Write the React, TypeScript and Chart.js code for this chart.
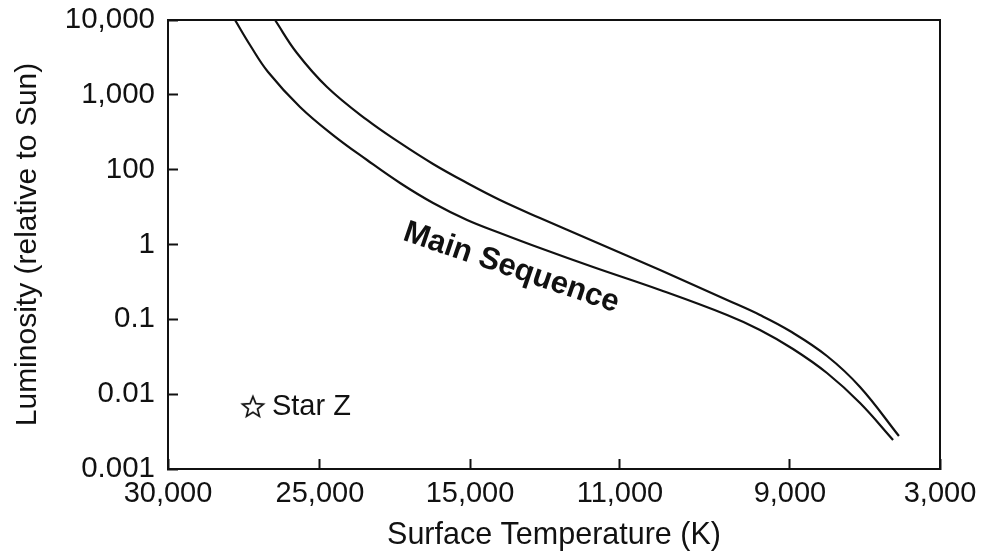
import React, { useEffect, useRef } from "react";
import { Chart, registerables } from "chart.js";

Chart.register(...registerables);

// Axis labels (the original axis is evenly spaced by label, not by value)
const xTickLabels = ["30,000", "25,000", "15,000", "11,000", "9,000", "3,000"];
const xTickPositions = [0, 0.984, 1.956, 2.927, 4.028, 5];
const yTickLabels = ["0.001", "0.01", "0.1", "1", "100", "1,000", "10,000"];

// Main sequence band: upper (outer) boundary, in axis-label units
const upperX = [0.693, 0.835, 1.03, 1.289, 1.503, 1.717, 1.937, 2.15, 2.409, 2.753, 3.187, 3.621, 3.834, 4.028, 4.268, 4.482, 4.734];
const upperY = [6.0, 5.559, 5.105, 4.664, 4.357, 4.076, 3.822, 3.595, 3.354, 3.047, 2.659, 2.258, 2.058, 1.844, 1.51, 1.096, 0.441];
// lower (inner) boundary
const lowerX = [0.434, 0.531, 0.648, 0.855, 1.069, 1.289, 1.503, 1.717, 1.937, 2.15, 2.409, 2.753, 3.187, 3.621, 3.834, 4.048, 4.268, 4.482, 4.696];
const lowerY = [6.0, 5.666, 5.305, 4.838, 4.463, 4.129, 3.822, 3.555, 3.328, 3.154, 2.953, 2.699, 2.392, 2.058, 1.858, 1.604, 1.283, 0.882, 0.388];

// Star Z
const starX = [0.55];
const starY = [0.83];
const starNames = ["Star Z"];

// Band label
const bandLabel = "Main Sequence";
const bandLabelX = 2.205;
const bandLabelY = 2.58;

const FONT = "'Liberation Sans', Arial, Helvetica, sans-serif";
const INK = "#111";

function makeStarCanvas(): HTMLCanvasElement {
  const c = document.createElement("canvas");
  c.width = 26;
  c.height = 26;
  const g = c.getContext("2d")!;
  const cx = 13, cy = 13.5, R = 11, r = 4.8;
  g.beginPath();
  for (let i = 0; i < 10; i++) {
    const ang = -Math.PI / 2 + (i * Math.PI) / 5;
    const rad = i % 2 === 0 ? R : r;
    const px = cx + rad * Math.cos(ang);
    const py = cy + rad * Math.sin(ang);
    if (i === 0) g.moveTo(px, py);
    else g.lineTo(px, py);
  }
  g.closePath();
  g.fillStyle = "#fff";
  g.fill();
  g.lineWidth = 1.7;
  g.strokeStyle = INK;
  g.lineJoin = "miter";
  g.stroke();
  return c;
}

function zeroPad(scale: any) {
  scale.paddingTop = 0;
  scale.paddingBottom = 0;
  scale.paddingLeft = 0;
  scale.paddingRight = 0;
}

export default function App() {
  const ref = useRef<HTMLCanvasElement | null>(null);

  useEffect(() => {
    if (!ref.current) return;
    const starImg = makeStarCanvas();

    const annotate = {
      id: "annotate",
      afterDatasetsDraw(chart: any) {
        const { ctx, chartArea, scales } = chart;
        const xs = scales.x, ys = scales.y;
        ctx.save();
        // frame
        ctx.strokeStyle = INK;
        ctx.lineWidth = 2;
        ctx.strokeRect(chartArea.left, chartArea.top, chartArea.right - chartArea.left, chartArea.bottom - chartArea.top);
        // star labels
        ctx.fillStyle = INK;
        ctx.font = `29px ${FONT}`;
        ctx.textAlign = "left";
        ctx.textBaseline = "middle";
        starNames.forEach((name, i) => {
          const px = xs.getPixelForValue(starX[i]);
          const py = ys.getPixelForValue(starY[i]);
          ctx.fillText(name, px + 19, py);
        });
        // band label
        const bx = xs.getPixelForValue(bandLabelX);
        const by = ys.getPixelForValue(bandLabelY);
        ctx.translate(bx, by);
        ctx.rotate((18.8 * Math.PI) / 180);
        ctx.font = `bold 31px ${FONT}`;
        ctx.textAlign = "center";
        ctx.textBaseline = "alphabetic";
        ctx.fillText(bandLabel, 0, 0);
        ctx.restore();
      },
    };

    const chart = new Chart(ref.current, {
      type: "line",
      data: {
        datasets: [
          {
            label: "upper",
            data: upperX.map((x, i) => ({ x, y: upperY[i] })),
            borderColor: INK,
            borderWidth: 2.2,
            pointRadius: 0,
            tension: 0.4,
            fill: false,
          },
          {
            label: "lower",
            data: lowerX.map((x, i) => ({ x, y: lowerY[i] })),
            borderColor: INK,
            borderWidth: 2.2,
            pointRadius: 0,
            tension: 0.4,
            fill: false,
          },
          {
            type: "scatter",
            label: "Star Z",
            data: starX.map((x, i) => ({ x, y: starY[i] })),
            pointStyle: starImg as any,
            pointRadius: 12,
            showLine: false,
          } as any,
        ],
      },
      options: {
        responsive: false,
        animation: false,
        devicePixelRatio: 1,
        layout: { padding: { top: 20, right: 42, left: 0, bottom: 0 } },
        plugins: {
          legend: { display: false },
          tooltip: { enabled: false },
        },
        scales: {
          x: {
            type: "linear",
            min: 0,
            max: 5,
            afterBuildTicks: (scale: any) => {
              scale.ticks = xTickPositions.map((v) => ({ value: v }));
            },
            afterFit: (scale: any) => {
              scale.height = 88;
              zeroPad(scale);
            },
            ticks: {
              autoSkip: false,
              maxRotation: 0,
              minRotation: 0,
              padding: 18,
              color: INK,
              font: { family: FONT, size: 29 },
              callback: (_v: any, i: number) => xTickLabels[i],
            },
            grid: {
              drawOnChartArea: false,
              drawTicks: true,
              tickLength: -10,
              tickWidth: 2,
              tickColor: INK,
            },
            border: { display: true, color: INK, width: 2 },
            title: {
              display: true,
              text: "Surface Temperature (K)",
              color: INK,
              font: { family: FONT, size: 30.5 },
              padding: { top: 0, bottom: 3 },
            },
          },
          y: {
            type: "linear",
            min: 0,
            max: 6,
            afterFit: (scale: any) => {
              scale.width = 168;
              zeroPad(scale);
            },
            ticks: {
              stepSize: 1,
              padding: 23,
              color: INK,
              font: { family: FONT, size: 29.5 },
              callback: (v: any) => yTickLabels[Math.round(Number(v))] ?? "",
            },
            grid: {
              drawOnChartArea: false,
              drawTicks: true,
              tickLength: -10,
              tickWidth: 2,
              tickColor: INK,
            },
            border: { display: true, color: INK, width: 2 },
            title: {
              display: true,
              text: "Luminosity (relative to Sun)",
              color: INK,
              font: { family: FONT, size: 30 },
              padding: { top: 10, bottom: 0 },
            },
          },
        },
      },
      plugins: [annotate],
    } as any);

    return () => chart.destroy();
  }, []);

  return (
    <div style={{ position: "absolute", left: 0, top: 0, width: 982, height: 557, background: "#fff" }}>
      <canvas ref={ref} width={982} height={557} style={{ display: "block" }} />
    </div>
  );
}
